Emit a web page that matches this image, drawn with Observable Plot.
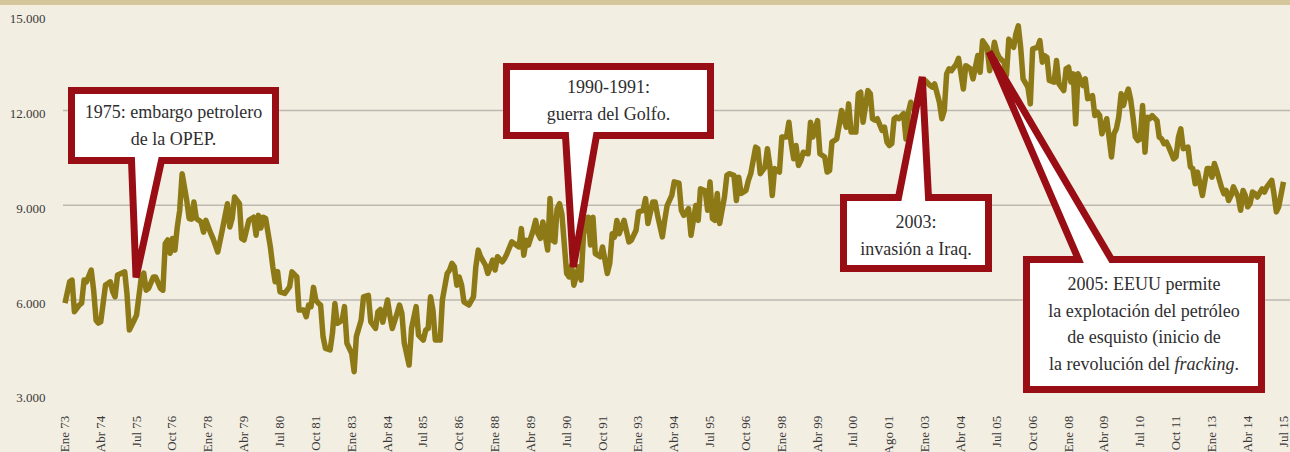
<!DOCTYPE html>
<html><head><meta charset="utf-8">
<script src="https://cdn.jsdelivr.net/npm/d3@7"></script>
<script src="https://cdn.jsdelivr.net/npm/@observablehq/plot@0.6"></script>
<style>html,body{margin:0;padding:0;background:#f3eee2;overflow:hidden}</style>
</head><body>
<script>
// months since January 1973 (Ene 73 = 0)
const months = [
0,2,3,4,6,7,8,9,11,12,
13,14,15,17,18,19,20,21,22,25,
26,27,29,30,32,33,34,35,37,38,
40,41,42,43,44,45,46,47,48,49,
51,52,53,54,55,57,58,59,61,62,
64,65,66,68,69,70,71,73,74,75,
77,79,80,81,82,83,84,86,87,88,
89,90,92,94,95,97,98,100,101,102,
103,104,105,106,107,108,109,111,112,113,
114,116,117,118,120,121,122,124,125,127,
128,130,131,132,133,135,136,137,139,140,
141,142,144,145,147,148,150,151,152,153,
154,155,157,158,160,161,162,163,164,165,
166,167,169,171,172,173,174,176,177,179,
180,181,183,184,185,187,188,190,191,192,
193,194,196,197,198,199,200,201,202,203,
204,205,206,207,208,210,211,212,213,215,
216,217,219,220,221,222,224,225,226,227,
228,229,230,231,232,234,236,237,239,240,
242,243,244,246,247,248,250,251,252,254,
255,257,258,259,261,262,263,264,265,266,
268,269,270,271,272,273,274,276,277,278,
280,281,282,283,285,286,287,289,290,291,
293,294,295,296,297,299,300,302,303,304,
305,306,307,308,309,311,312,313,315,316,
318,319,320,321,323,324,325,327,328,329,
331,332,333,334,336,337,338,339,340,342,
343,344,345,346,347,348,349,351,352,353,
354,356,357,359,360,362,363,364,366,367,
368,369,370,371,373,374,376,377,379,380,
382,383,384,386,387,389,390,391,393,394,
395,397,398,399,400,401,403,404,405,407,
408,409,410,411,412,414,415,416,418,419,
420,421,422,423,424,426,427,428,430,431,
432,433,434,436,438,439,440,441,442,443,
444,445,446,447,448,449,450,451,452,453,
454,455,457,458,459,460,461,462,464,465,
466,467,468,470,471,472,473,474,476,477,
478,479,480,481,482,484,485,486,487,488,
489,491,492,493,494,495,496,497,498,499,
501,502,503,505,506,507,508,510
];
const values = [
5900,6575,6630,5630,5840,5900,6630,6575,6950,6310,
5360,5270,5310,6470,6520,6575,6260,6100,6790,6890,
6210,5050,5360,5520,6730,6850,6310,6370,6730,6730,
6370,6310,7790,7900,7480,7950,7580,8310,8840,10000,
9150,8580,8560,9100,8580,8470,8150,8520,8110,7950,
7520,7890,8260,9050,8310,8590,9260,9050,7950,7900,
8520,8620,8050,8680,8280,8620,8580,7680,7050,6575,
6900,6260,6210,6420,6890,6730,5680,5680,5470,5840,
5790,6400,6000,5900,5840,4840,4470,4420,4950,5890,
5260,5360,5790,4630,4310,3730,4840,5360,6100,6150,
5310,5100,5630,5700,5300,6000,5520,5100,5580,5840,
5580,4630,3940,5100,5790,4890,4730,5050,5100,6100,
5680,4730,4730,6000,6840,6950,7160,7050,6470,6730,
6470,5940,5840,6100,7050,7580,7370,7100,6840,7260,
6950,7370,7210,7310,7470,7840,7790,7680,8260,7420,
7890,7740,8210,8520,8100,7950,8470,8050,7580,9210,
7890,7840,8890,9050,8730,6840,6730,7100,6470,7050,
6630,8100,8620,7740,8620,7470,7370,7680,7260,6840,
7160,8100,7990,8520,8100,8520,7840,7890,8210,8790,
8840,9210,8420,9100,9100,8680,8000,8520,8990,9310,
9740,9700,8840,8680,8890,8050,8520,8990,8520,9520,
9460,8840,9740,8580,8520,9370,8420,9260,9950,10000,
9950,9150,9890,9370,9470,9790,10000,10840,10790,10000,
10210,10790,10260,9310,10160,10050,11160,11160,11630,10950,
10470,10890,10260,10420,10680,10630,11630,11160,11680,10630,
10530,10050,10100,11000,11100,11530,12000,11470,12210,11320,
11320,12530,12580,11630,12630,12530,11740,11690,11740,11370,
11470,11000,10890,10950,11740,11790,11740,11900,11100,11950,
12260,11950,12470,12840,12950,12800,12740,12840,12260,11740,
12000,13160,13320,13260,13470,13650,12680,13420,13320,13000,
13740,13210,14210,13990,13260,14160,13840,13680,13530,13110,
14260,14000,14420,14680,14000,13000,12740,12210,13950,14000,
14210,13530,13740,13680,12950,12900,13580,12840,12630,13320,
13370,12900,13160,11580,13160,12790,13000,12370,12470,11840,
11950,11840,11260,11740,10530,11260,11420,11790,12530,12160,
12470,12680,12370,11790,11160,11050,11100,12160,10680,11790,
11740,11840,11680,11160,11100,10950,11000,10840,10470,10530,
11160,11420,10790,10840,10210,10160,9680,10050,9310,9740,
10160,10160,9890,10320,10110,9580,9370,9470,9150,9310,
9580,9260,8840,9470,9310,8950,9050,9420,9370,9260,
9520,9420,9580,9790,9370,8790,8950,9740
];
const tickMonths = [0,15,30,45,60,75,90,105,120,135,150,165,180,195,210,225,240,255,270,285,300,315,330,345,360,375,390,405,420,435,450,465,480,495,510];
const tickLabels = ["Ene 73","Abr 74","Jul 75","Oct 76","Ene 78","Abr 79","Jul 80","Oct 81","Ene 83","Abr 84","Jul 85","Oct 86","Ene 88","Abr 89","Jul 90","Oct 91","Ene 93","Abr 94","Jul 95","Oct 96","Ene 98","Abr 99","Jul 00","Ago 01","Ene 03","Abr 04","Jul 05","Oct 06","Ene 08","Abr 09","Jul 10","Oct 11","Ene 13","Abr 14","Jul 15"];
const yTicks = [3000, 6000, 9000, 12000, 15000];
const gridValues = [6000, 9000, 12000];
const annoMonths = [30, 213, 359, 387];
const annoValues = [6700, 7030, 13050, 13840];
const annoTexts = [
  ["1975: embargo petrolero", "de la OPEP."],
  ["1990-1991:", "guerra del Golfo."],
  ["2003:", "invasión a Iraq."],
  ["2005: EEUU permite", "la explotación del petróleo", "de esquisto (inicio de", "la revolución del _fracking_."]
];

const toDate = m => new Date(Date.UTC(1973, m, 1));
const data = months.map((m, i) => ({date: toDate(m), value: values[i]}));
const ticks = tickMonths.map((m, i) => ({date: toDate(m), label: tickLabels[i]}));
const fmt = d => d3.format(",")(d).replace(/,/g, ".");

const W = 1290, H = 452;
const plot = Plot.plot({
  width: W, height: H,
  marginLeft: 64.5, marginRight: 7, marginTop: 15.25, marginBottom: 57.75,
  style: {background: "#f3eee2", fontFamily: "'Liberation Serif', serif", fontSize: "13px", color: "#3a3a3a", overflow: "visible"},
  x: {type: "utc", domain: [toDate(0), toDate(510)], axis: null},
  y: {domain: [3000, 15000], axis: null},
  marks: [
    Plot.ruleY(gridValues, {stroke: "#bdb9b0", strokeWidth: 1.3, insetLeft: -1.5, insetRight: -7}),
    Plot.text(yTicks, {y: d => d, text: d => fmt(d), frameAnchor: "left", textAnchor: "end", dx: -19.5, dy: 3.5, fill: "#3a3a3a", fontSize: 13}),
    Plot.text(ticks, {x: "date", text: "label", frameAnchor: "bottom", rotate: -90, textAnchor: "end", dy: 21, dx: 4, fill: "#3a3a3a", fontSize: 13}),
    Plot.lineY(data, {x: "date", y: "value", stroke: "#8d7a17", strokeWidth: 5.5, strokeLinejoin: "round", strokeLinecap: "butt"})
  ]
});
document.body.appendChild(plot);

const sx = plot.scale("x"), sy = plot.scale("y");
const svg = d3.select(plot);
svg.append("rect").attr("x", 0).attr("y", 0).attr("width", W).attr("height", 5).attr("fill", "#d5c69c");

const boxes = [
  {x0: 68, y0: 87, x1: 279, y1: 164, side: "bottom", b1: 128, b2: 165, lines: [118, 145]},
  {x0: 503, y0: 63, x1: 714, y1: 139, side: "bottom", b1: 562, b2: 600, lines: [93, 120]},
  {x0: 840, y0: 194, x1: 992, y1: 272, side: "top", b1: 895, b2: 932, lines: [228, 255]},
  {x0: 1023, y0: 256, x1: 1265, y1: 393, side: "top", b1: 1075, b2: 1115, lines: [290, 316.7, 343.3, 370]}
];
const sw = 7, h = sw / 2;
const g = svg.append("g");
boxes.forEach((b, i) => {
  const tx = sx.apply(toDate(annoMonths[i])), ty = sy.apply(annoValues[i]);
  const L = b.x0 + h, R = b.x1 - h, T = b.y0 + h, B = b.y1 - h;
  let p;
  if (b.side === "bottom") {
    p = `M${L},${T}L${R},${T}L${R},${B}L${b.b2 - h},${B}L${tx},${ty}L${b.b1 + h},${B}L${L},${B}Z`;
  } else {
    p = `M${L},${T}L${b.b1 + h},${T}L${tx},${ty}L${b.b2 - h},${T}L${R},${T}L${R},${B}L${L},${B}Z`;
  }
  g.append("path").attr("d", p).attr("fill", "#ffffff").attr("stroke", "#990d14")
    .attr("stroke-width", sw).attr("stroke-linejoin", "miter").attr("stroke-miterlimit", 4);
  const cx = (b.x0 + b.x1) / 2;
  annoTexts[i].forEach((line, j) => {
    const t = g.append("text").attr("x", cx).attr("y", b.lines[j]).attr("text-anchor", "middle")
      .attr("font-family", "'Liberation Serif', serif").attr("font-size", 18).attr("fill", "#2e2e2e");
    line.split("_").forEach((seg, k) => {
      if (!seg) return;
      const ts = t.append("tspan").text(seg);
      if (k % 2 === 1) ts.attr("font-style", "italic");
    });
  });
});
</script>
</body></html>
